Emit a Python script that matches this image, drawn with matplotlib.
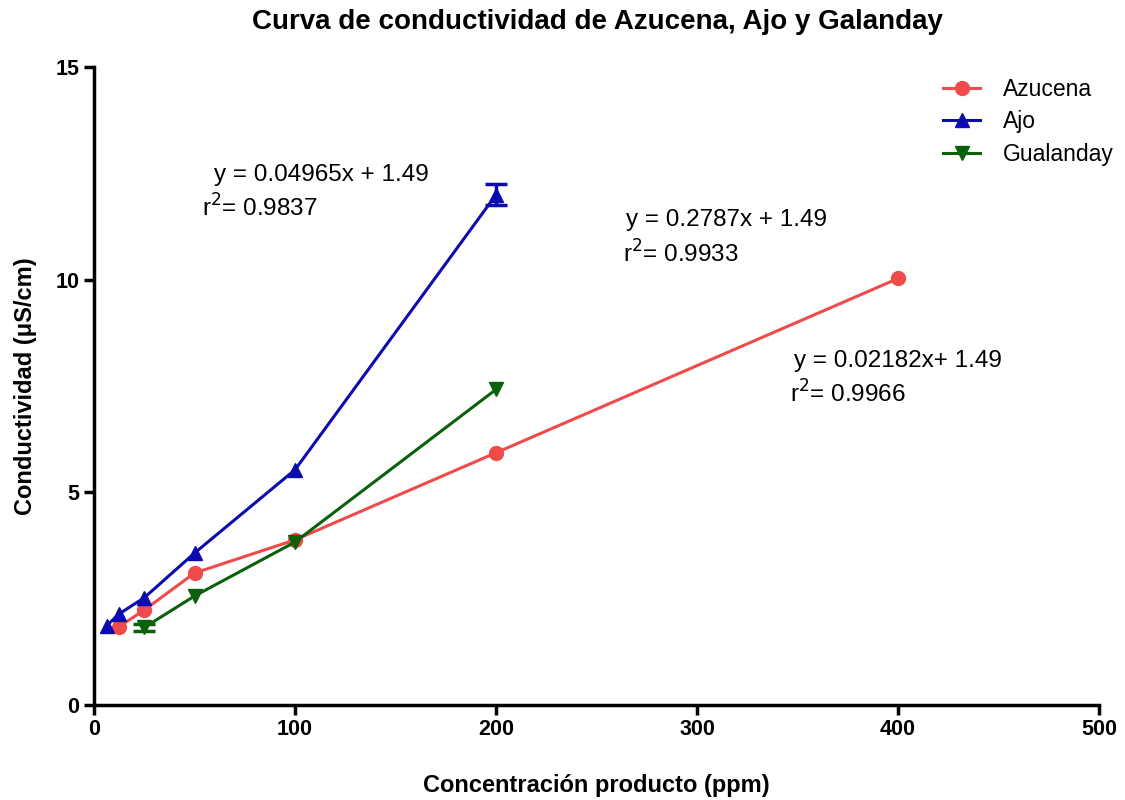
import matplotlib
matplotlib.use("Agg")
import matplotlib.pyplot as plt
import numpy as np

plt.rcParams["font.family"] = ["Liberation Sans", "DejaVu Sans"]

# concentration (ppm) and conductivity (uS/cm) per extract
azucena_x = [12.5, 25, 50, 100, 200, 400]
azucena_y = [1.84, 2.23, 3.10, 3.88, 5.93, 10.03]

ajo_x = [6.25, 12.5, 25, 50, 100, 200]
ajo_y = [1.86, 2.14, 2.52, 3.57, 5.53, 12.0]
ajo_err = [0, 0, 0, 0, 0, 0.25]

gual_x = [25, 50, 100, 200]
gual_y = [1.82, 2.56, 3.83, 7.42]
gual_err = [0.08, 0, 0, 0]

RED = "#ef4b4b"
BLUE = "#0b0bb0"
GREEN = "#0b600b"

fig = plt.figure(figsize=(11.25, 8), dpi=100)
ax = fig.add_axes([0.0836, 0.119, 0.8934, 0.797])


def draw_series(x, y, err, color, marker, label):
    ax.plot(x, y, color=color, marker=marker, markersize=10, lw=2.2,
            label=label)
    x, y, err = np.asarray(x), np.asarray(y), np.asarray(err)
    m = err > 0
    if m.any():
        ax.errorbar(x[m], y[m], yerr=err[m], fmt="none", ecolor=color,
                    capsize=8, capthick=2.5, elinewidth=2.5)


draw_series(azucena_x, azucena_y, [0] * len(azucena_x), RED, "o", "Azucena")
draw_series(ajo_x, ajo_y, ajo_err, BLUE, "^", "Ajo")
draw_series(gual_x, gual_y, gual_err, GREEN, "v", "Gualanday")

ax.set_xlim(0, 500)
ax.set_ylim(0, 15)
ax.set_xticks([0, 100, 200, 300, 400, 500])
ax.set_yticks([0, 5, 10, 15])
for s in ["top", "right"]:
    ax.spines[s].set_visible(False)
for s in ["left", "bottom"]:
    ax.spines[s].set_linewidth(2.5)
ax.tick_params(width=2.5, length=7, labelsize=15.5)
for lbl in ax.get_xticklabels() + ax.get_yticklabels():
    lbl.set_fontweight("bold")

ax.set_xlabel("Concentración producto (ppm)", fontsize=17, fontweight="bold",
              labelpad=24)
ax.set_ylabel("Conductividad (\u03bcS/cm)", fontsize=17, fontweight="bold",
              labelpad=13)
fig.text(0.531, 0.972, "Curva de conductividad de Azucena, Ajo y Galanday",
         ha="center", va="center", fontsize=20, fontweight="bold")

# regression equations
eq_kw = dict(fontsize=17.5, ha="left", va="center", transform=fig.transFigure)
fig.text(0.190, 0.781, "y = 0.04965x + 1.49", **eq_kw)
fig.text(0.180, 0.740, "r$^{2}$= 0.9837", **eq_kw)
fig.text(0.556, 0.725, "y = 0.2787x + 1.49", **eq_kw)
fig.text(0.554, 0.683, "r$^{2}$= 0.9933", **eq_kw)
fig.text(0.706, 0.549, "y = 0.02182x+ 1.49", **eq_kw)
fig.text(0.702, 0.508, "r$^{2}$= 0.9966", **eq_kw)

ax.legend(loc="upper right", bbox_to_anchor=(1.035, 1.015), frameon=False,
          fontsize=16.5, handlelength=1.6, labelspacing=0.4,
          handletextpad=1.0)

fig.savefig("out.png", dpi=100)
